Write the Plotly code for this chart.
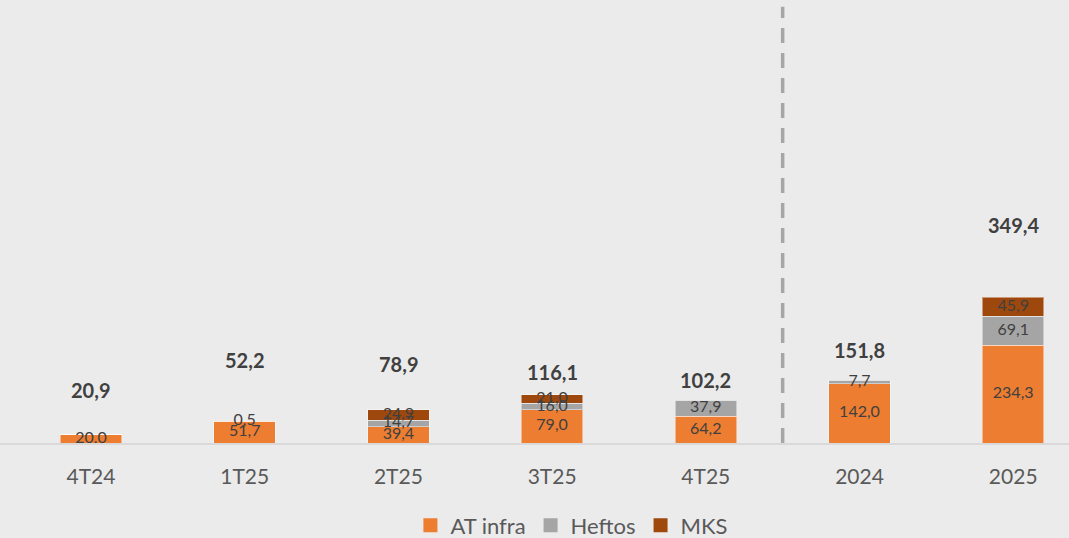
import plotly.graph_objects as go

categories = ["4T24", "1T25", "2T25", "3T25", "4T25", "2024", "2025"]
at_infra = [20.0, 51.7, 39.4, 79.0, 64.2, 142.0, 234.3]
heftos = [None, 0.5, 14.7, 16.0, 37.9, 7.7, 69.1]
mks = [None, None, 24.9, 21.0, None, None, 45.9]
totals = [20.9, 52.2, 78.9, 116.1, 102.2, 151.8, 349.4]

# pixel offsets of the total labels above the stack tops (layout only)
total_shift_px = [45, 61, 46, 23, 20, 30, 72]

FONT = "Lato"
TXT = "#404040"
series = [("AT infra", at_infra, "#ED7D31"),
          ("Heftos", heftos, "#A5A5A5"),
          ("MKS", mks, "#9E480E")]

fig = go.Figure()
for name, vals, col in series:
    fig.add_trace(go.Bar(
        x=categories, y=[v if v is not None else 0 for v in vals], name=name,
        marker=dict(color=col, line=dict(color="rgba(255,255,255,0.45)", width=1)),
        width=0.4, hoverinfo="skip", showlegend=False))

# legend entries with larger square swatches
for name, vals, col in series:
    fig.add_trace(go.Scatter(x=[None], y=[None], mode="markers", name=name,
                             marker=dict(symbol="square", size=14, color=col),
                             hoverinfo="skip"))

def fmt(v):
    return f"{v:.1f}".replace(".", ",")

# segment labels, centred in each segment
base = [0.0] * len(categories)
for name, vals, col in series:
    xs, ys, ts = [], [], []
    for i, v in enumerate(vals):
        if v is None:
            continue
        xs.append(categories[i]); ys.append(base[i] + v / 2); ts.append(fmt(v))
        base[i] += v
    fig.add_trace(go.Scatter(x=xs, y=ys, text=ts, mode="text", showlegend=False,
                             textfont=dict(family=FONT, size=16, color=TXT),
                             hoverinfo="skip"))

for i, c in enumerate(categories):
    fig.add_annotation(x=i, y=base[i], text=f"<b>{fmt(totals[i])}</b>", showarrow=False,
                       yanchor="middle", yshift=total_shift_px[i],
                       font=dict(family=FONT, size=20, color=TXT))

fig.add_shape(type="line", xref="x", yref="paper", x0=4.5, x1=4.5, y0=0, y1=0.985,
              line=dict(color="#A6A6A6", width=3.5, dash="15px,10px"))

fig.update_layout(
    width=1069, height=538, barmode="stack",
    paper_bgcolor="#EBEBEB", plot_bgcolor="#EBEBEB",
    margin=dict(l=0, r=0, t=0, b=95, autoexpand=False),
    font=dict(family=FONT, color="#595959"),
    xaxis=dict(type="category", range=[-0.592, 6.363], showgrid=False, zeroline=False,
               showline=True, linecolor="#D9D9D9", linewidth=2,
               ticks="outside", ticklen=14, tickcolor="rgba(0,0,0,0)",
               tickfont=dict(family=FONT, size=21, color="#595959")),
    yaxis=dict(range=[0, 1060], visible=False, showgrid=False, zeroline=False),
    legend=dict(orientation="h", x=0.535, xanchor="center", yref="paper", y=-0.186,
                yanchor="middle", font=dict(family=FONT, size=22, color="#595959"),
                bgcolor="rgba(0,0,0,0)", itemclick=False, traceorder="normal",
                itemwidth=30),
    showlegend=True,
)

fig.write_html("out.html", config={"displayModeBar": False},
               post_script="document.body.style.margin='0';document.body.style.background='#EBEBEB';")
